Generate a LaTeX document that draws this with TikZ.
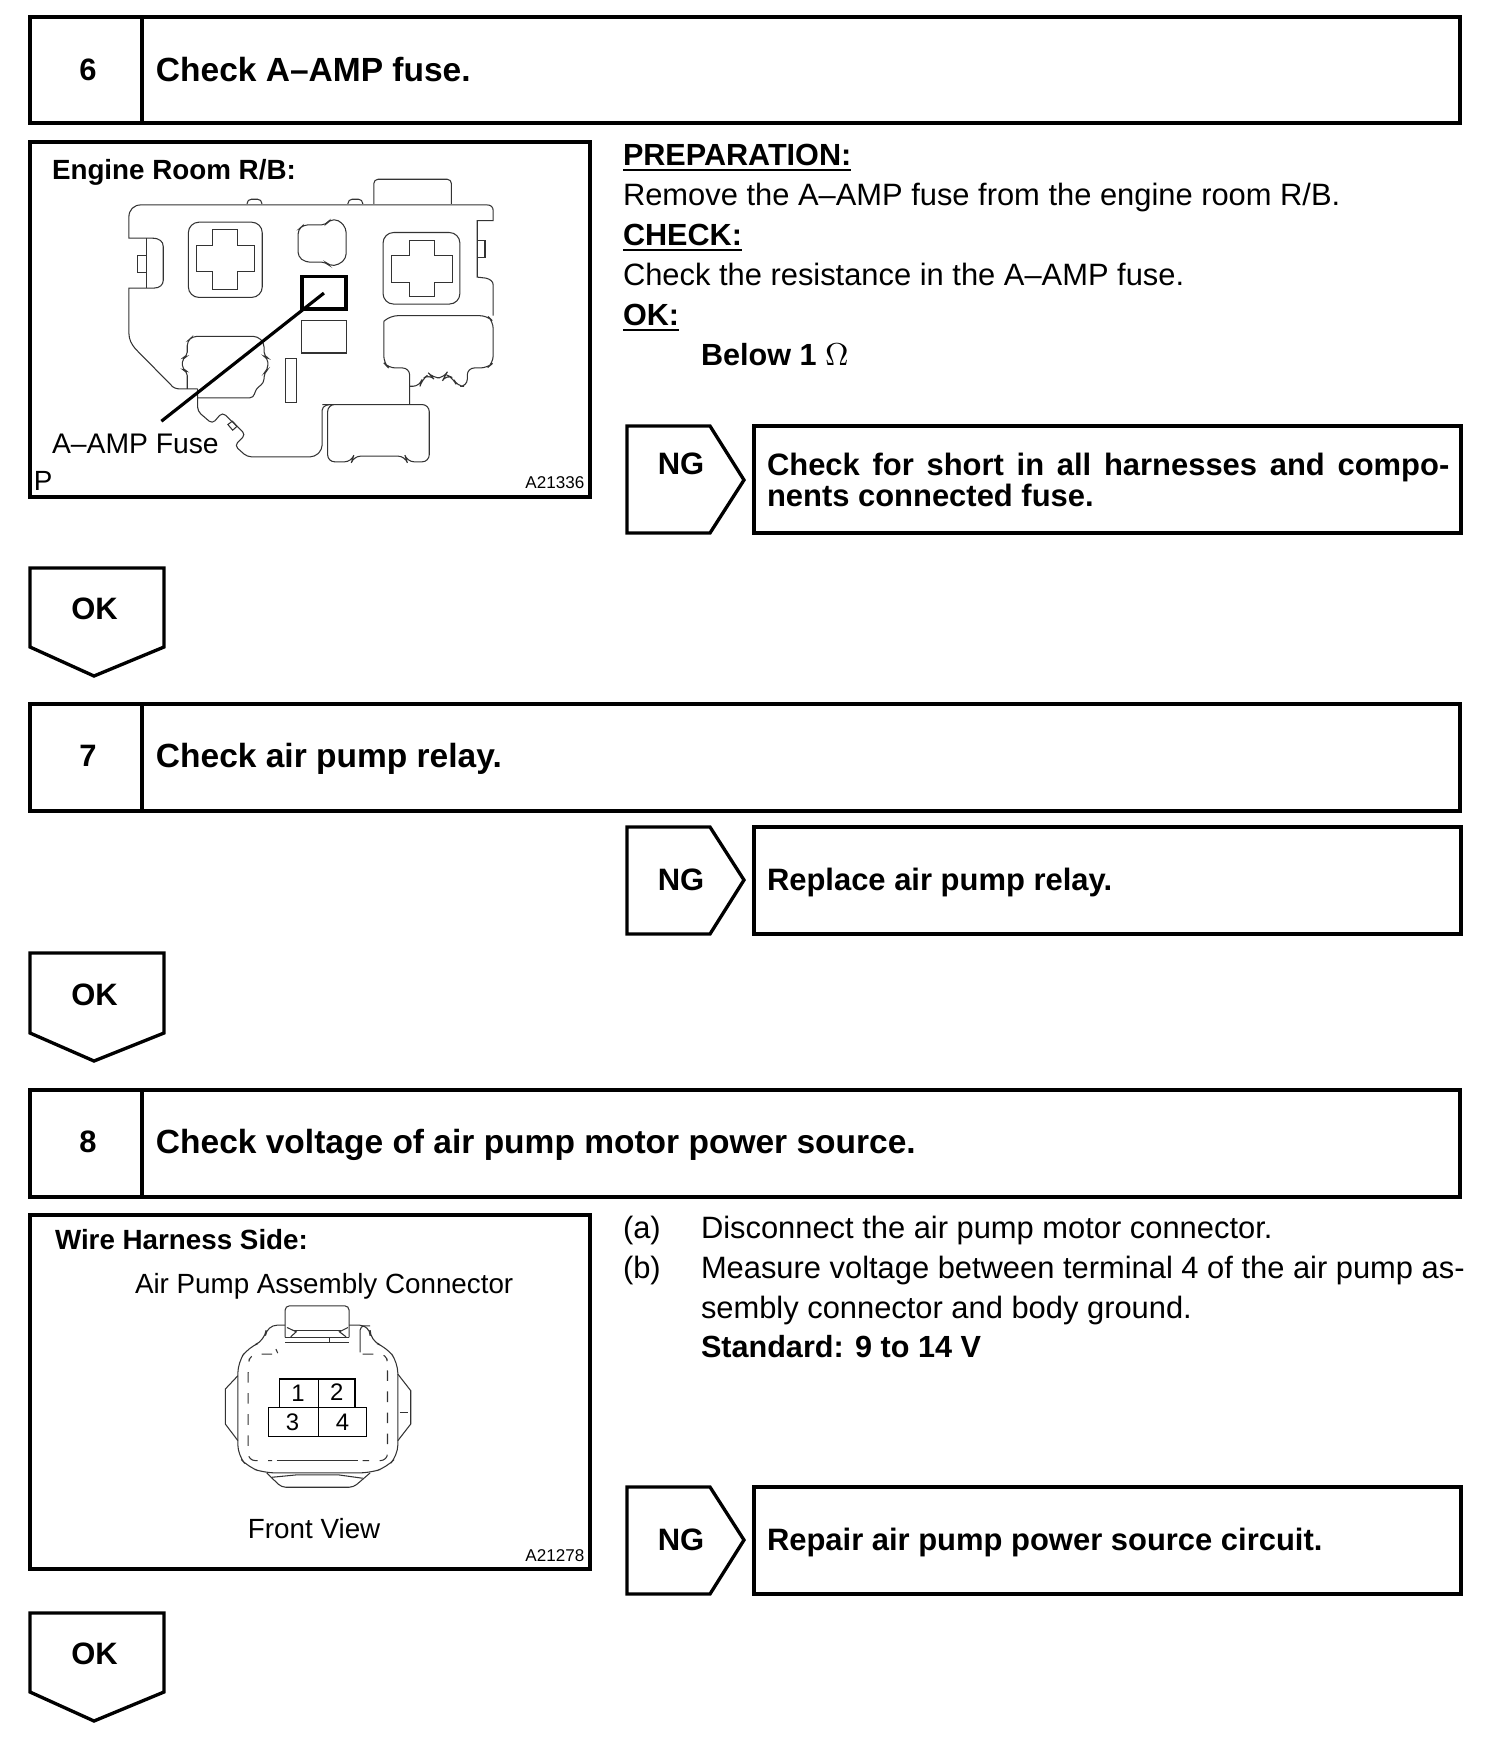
\documentclass[tikz,border=0pt]{standalone}
\usepackage{fontspec}
\setmainfont{Liberation Sans}
\usepackage{amsmath}

\tikzset{
    frameline/.style={line width=0.95pt, black},
    thinline/.style={line width=0.3pt, black!80},
    partline/.style={thinline, rounded corners=1.2pt},
    txt/.style={anchor=base west, inner sep=0pt, outer sep=0pt, font=\fontsize{8.78}{10}\selectfont},
    boldtxt/.style={txt, font=\fontsize{8.8}{10}\selectfont\bfseries},
    labeltxt/.style={txt, font=\fontsize{8.7}{10}\selectfont\bfseries},
    headtxt/.style={txt, font=\fontsize{9.53}{10}\selectfont\bfseries},
    tagtxt/.style={anchor=center, inner sep=0pt, font=\fontsize{8.8}{10}\selectfont\bfseries},
    figtxt/.style={txt, font=\fontsize{7.9}{10}\selectfont},
    figbold/.style={txt, font=\fontsize{7.9}{10}\selectfont\bfseries},
    smalltxt/.style={anchor=base east, inner sep=0pt, font=\fontsize{4.85}{6}\selectfont},
    pintxt/.style={anchor=center, inner sep=0pt, font=\fontsize{6.8}{8}\selectfont},
}

\begin{document}
\begin{tikzpicture}[x=0.01cm,y=-0.01cm]
    \useasboundingbox (0,0) rectangle (1504,1750);

    % step headers
    \draw[frameline] (30,17) rectangle (1460,123);
    \draw[frameline] (142,17) -- (142,123);
    \draw[frameline] (30,704) rectangle (1460,811);
    \draw[frameline] (142,704) -- (142,811);
    \draw[frameline] (30,1090) rectangle (1460,1197);
    \draw[frameline] (142,1090) -- (142,1197);

    \node[tagtxt] (num6) at (88,70) {6};
    \node[tagtxt] (num7) at (88,756) {7};
    \node[tagtxt] (num8) at (88,1142) {8};
    \node[headtxt] (head6) at (156,81) {Check A--AMP fuse.};
    \node[headtxt] (head7) at (156,767) {Check air pump relay.};
    \node[headtxt] (head8) at (156,1153) {Check voltage of air pump motor power source.};

    % NG tags and result boxes
    \draw[frameline] (627,426) -- (710,426) -- (744,480) -- (710,533) -- (627,533) -- cycle;
    \draw[frameline] (754,426) rectangle (1461,533);
    \draw[frameline] (627,827) -- (710,827) -- (744,880) -- (710,934) -- (627,934) -- cycle;
    \draw[frameline] (754,827) rectangle (1461,934);
    \draw[frameline] (627,1487) -- (710,1487) -- (744,1540) -- (710,1594) -- (627,1594) -- cycle;
    \draw[frameline] (754,1487) rectangle (1461,1594);

    \node[tagtxt] (ng1) at (681,464) {NG};
    \node[tagtxt] (ng2) at (681,880) {NG};
    \node[tagtxt] (ng3) at (681,1540) {NG};
    \node[boldtxt] (res1a) at (767,475) {\makebox[6.82cm][s]{Check for short in all harnesses and compo-}};
    \node[boldtxt] (res1b) at (767,506) {nents connected fuse.};
    \node[boldtxt] (res2) at (767,890) {Replace air pump relay.};
    \node[boldtxt] (res3) at (767,1550) {Repair air pump power source circuit.};

    % OK tags
    \draw[frameline] (30,568) -- (164,568) -- (164,647) -- (94,676) -- (30,647) -- cycle;
    \draw[frameline] (30,953) -- (164,953) -- (164,1033) -- (94,1061) -- (30,1033) -- cycle;
    \draw[frameline] (30,1613) -- (164,1613) -- (164,1692) -- (94,1721) -- (30,1692) -- cycle;
    \node[tagtxt] (ok1) at (94.5,609) {OK};
    \node[tagtxt] (ok2) at (94.5,995) {OK};
    \node[tagtxt] (ok3) at (94.5,1654) {OK};

    % step 6 text
    \node[labeltxt] (prep) at (623,165) {\underline{PREPARATION:}};
    \node[txt] (prep1) at (623,205) {Remove the A--AMP fuse from the engine room R/B.};
    \node[labeltxt] (chk) at (623,245) {\underline{CHECK:}};
    \node[txt] (chk1) at (623,285) {Check the resistance in the A--AMP fuse.};
    \node[labeltxt] (okk) at (623,325) {\underline{OK:}};
    \node[labeltxt] (below) at (701,365) {Below 1 $\Omega$};

    % step 8 text
    \node[txt] (itema) at (623,1238) {(a)};
    \node[txt] (itemat) at (701,1238) {Disconnect the air pump motor connector.};
    \node[txt] (itemb) at (623,1278) {(b)};
    \node[txt] (itembt) at (701,1278) {Measure voltage between terminal 4 of the air pump as-};
    \node[txt] (itembu) at (701,1318) {sembly connector and body ground.};
    \node[labeltxt] (std) at (701,1357) {Standard: 9 to 14 V};

    % relay block figure
    \draw[frameline] (30,142) rectangle (590,497);
    \node[figbold] (fig1t) at (52,179) {Engine Room R/B:};
    \node[figtxt, font=\fontsize{8.05}{10}\selectfont] (fusel) at (52,453) {A--AMP Fuse};
    \node[figtxt] (figp) at (34,490) {P};
    \node[smalltxt] (fig1id) at (585,488) {A21336};

    \begin{scope}[shift={(21,130)},x=0.00369cm,y=-0.00333cm]
        \draw[partline] (955,222) -- (955,148) -- (1165,148) -- (1165,222);
        \draw[partline] (612,222) -- (612,208) -- (652,208) -- (652,222);
        \draw[partline] (885,222) -- (885,208) -- (925,208) -- (925,222);
        \draw[thinline] (1262,225) .. controls (1272,225) and (1278,232) .. (1278,242) -- (1278,272) -- (1235,272) -- (1235,442) -- (1258,445) .. controls (1270,448) and (1278,455) .. (1278,465) -- (1278,558);
        \draw[thinline] (1262,225) -- (325,225) .. controls (305,225) and (292,240) .. (292,262) -- (292,325) -- (355,325) .. controls (375,325) and (385,335) .. (385,350) -- (385,452) .. controls (385,465) and (375,475) .. (360,475) -- (292,475) -- (292,610) .. controls (292,630) and (300,645) .. (310,658) -- (405,765) .. controls (412,775) and (420,778) .. (432,778) -- (478,778);
        \draw[thinline] (340,325) -- (340,475);
        \draw[thinline] (338,378) -- (315,378) -- (315,428) -- (338,428);
        \draw[thinline] (1235,333) -- (1256,333) -- (1256,382) -- (1235,382);

        % fuse holders
        \draw[partline, rounded corners=3pt] (453,277) rectangle (653,503);
        \draw[thinline] (518,300) -- (587,300) -- (587,348) -- (633,348) -- (633,425) -- (587,425) -- (587,478) -- (518,478) -- (518,425) -- (475,425) -- (475,348) -- (518,348) -- cycle;
        \draw[partline, rounded corners=3pt] (980,308) rectangle (1188,523);
        \draw[thinline] (1052,332) -- (1120,332) -- (1120,376) -- (1167,376) -- (1167,457) -- (1120,457) -- (1120,500) -- (1052,500) -- (1052,457) -- (1003,457) -- (1003,376) -- (1052,376) -- cycle;
        \draw[partline] (765,285) -- (825,285) -- (835,270) -- (860,270) -- (880,295) -- (880,385) -- (860,405) -- (835,408) -- (825,397) -- (770,397) -- (750,380) -- (750,300) -- cycle;
        \draw[thinline] (760,572) rectangle (880,670);
        \draw[thinline] (716,686) rectangle (746,820);

        % lower blocks
        \draw[partline, rounded corners=2pt] (982,575) -- (1000,558) -- (1262,558) -- (1278,575) -- (1278,700) -- (1262,715) -- (1208,715) -- (1208,770) -- (1180,770) -- (1170,745) -- (1150,735) -- (1145,745) -- (1115,745) -- (1105,733) -- (1085,750) -- (1080,770) -- (1052,770);
        \draw[partline, rounded corners=2pt] (982,575) -- (982,700) -- (995,715) -- (1052,715) -- (1052,825);
        \draw[partline, rounded corners=2pt] (835,825) -- (1105,825) -- (1105,997) -- (1045,997) -- (1040,980) -- (900,980) -- (895,997) -- (830,997) -- (830,825) -- cycle;
        \draw[partline] (835,825) -- (815,830) -- (815,960) -- (795,982) -- (612,982) -- (578,948) -- (608,915) -- (545,848) -- (518,883) -- (478,845) -- (478,778);
        \draw[thinline] (560,885) -- (572,875) -- (585,890) -- (573,902) -- cycle;
        \draw[partline] (478,805) -- (630,805) -- (635,778) -- (658,760) -- (658,730) -- (668,720) -- (668,685) -- (658,680) -- (658,640) -- (640,620) -- (465,620) -- (450,635) -- (450,680) -- (437,685) -- (437,720) -- (450,725) -- (450,778);

        % marked fuse with its leader
        \draw[line width=1.1pt] (760,440) rectangle (880,538);
        \coordinate (leadA) at (820,490);
        \coordinate (leadB) at (380,875);
        \draw[line width=0.9pt] (leadA) -- (leadB);
    \end{scope}

    % connector figure
    \draw[frameline] (30,1215) rectangle (590,1569);
    \node[figbold] (fig2t) at (55,1249) {Wire Harness Side:};
    \node[figtxt] (conn) at (135,1293) {Air Pump Assembly Connector};
    \node[figtxt] (front) at (248,1538) {Front View};
    \node[smalltxt] (fig2id) at (585,1561) {A21278};

    \begin{scope}[shift={(21,1206)},x=0.00369cm,y=-0.00333cm]
        \draw[partline] (715,395) -- (715,300) -- (888,300) -- (888,395);
        \draw[partline, rounded corners=3pt] (715,358) -- (665,358) -- (660,405) -- (615,425) -- (587,470) -- (587,750) -- (615,785) -- (660,802) -- (945,802) -- (990,785) -- (1020,750) -- (1020,470) -- (990,425) -- (945,405) -- (945,358) -- (888,358);
        \draw[thinline] (587,510) -- (553,550) -- (553,655) -- (587,705);
        \draw[thinline] (1020,505) -- (1055,555) -- (1055,655) -- (1020,705);
        \draw[partline] (665,802) -- (705,845) -- (900,845) -- (945,802);
        \draw[thinline] (680,815) -- (745,808) -- (860,808) -- (925,818);
        \draw[thinline, dashed, rounded corners=2pt] (680,445) -- (620,445) -- (615,480) -- (615,765) -- (680,765);
        \draw[thinline, dashed, rounded corners=2pt] (925,445) -- (990,445) -- (992,480) -- (992,765) -- (925,765);
        \draw[thinline] (692,765) -- (912,765);
        \draw[thinline] (740,375) -- (865,375);
        \draw[thinline] (715,395) -- (888,395);
        \draw[thinline] (715,410) -- (888,410);
        \draw[thinline] (835,395) -- (835,410);
        \draw[thinline] (720,365) -- (745,378) -- (730,393);
        \draw[thinline] (885,365) -- (862,378) -- (880,393);
        \draw[partline] (918,440) -- (918,360) -- (945,360);
        \draw[thinline] (690,430) -- (695,442);
        \draw[thinline] (1025,620) -- (1048,620);

        % terminals
        \draw[line width=0.5pt] (700,605) -- (700,520) -- (905,520) -- (905,605);
        \draw[line width=0.4pt] (670,605) rectangle (935,693);
        \draw[line width=0.4pt] (805,520) -- (805,693);
        \node[pintxt] (pin1) at (750,562) {1};
        \node[pintxt] (pin2) at (855,560) {2};
        \node[pintxt] (pin3) at (735,650) {3};
        \node[pintxt] (pin4) at (870,650) {4};
    \end{scope}
\end{tikzpicture}
\end{document}
